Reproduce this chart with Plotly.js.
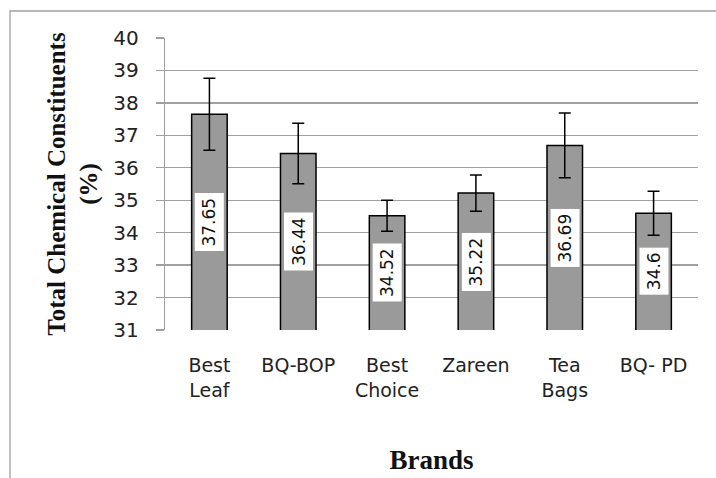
<!DOCTYPE html>
<html>
<head>
<meta charset="utf-8">
<script src="https://cdn.plot.ly/plotly-3.0.1.min.js"></script>
<style>
html,body{margin:0;padding:0;background:#fff;}
#chart{width:716px;height:478px;}
</style>
</head>
<body>
<div id="chart"></div>
<script>
var brands = ["Best<br>Leaf", "BQ-BOP", "Best<br>Choice", "Zareen", "Tea<br>Bags", "BQ- PD"];
var values = [37.65, 36.44, 34.52, 35.22, 36.69, 34.6];
var errors = [1.11, 0.93, 0.48, 0.56, 1.0, 0.68];
var labels = ["37.65", "36.44", "34.52", "35.22", "36.69", "34.6"];
var yMin = 31, yMax = 40;

var trace = {
  type: "bar",
  x: brands,
  y: values,
  marker: {color: "#9a9a9a", line: {color: "#000", width: 1.5}},
  error_y: {type: "data", array: errors, visible: true, color: "#000", thickness: 1.5, width: 6},
  hoverinfo: "none"
};

var annotations = values.map(function (v, i) {
  return {
    x: brands[i], y: (yMin + v) / 2, xref: "x", yref: "y",
    text: labels[i], showarrow: false, textangle: -90,
    bgcolor: "#ffffff", borderpad: 4,
    font: {family: "DejaVu Sans", size: 17, color: "#111"}
  };
});

var layout = {
  width: 716, height: 478,
  margin: {l: 165, r: 18, t: 38, b: 148},
  paper_bgcolor: "#fff", plot_bgcolor: "#fff",
  bargap: 0.6,
  showlegend: false,
  xaxis: {
    type: "category",
    showgrid: false, showline: false, ticks: "",
    tickfont: {family: "DejaVu Sans", size: 19, color: "#222"},
    ticklabelstandoff: 22,
    title: {text: "Brands", font: {family: "Liberation Serif", size: 27, color: "#111", weight: "bold"}, standoff: 50}
  },
  yaxis: {
    range: [yMin, yMax], dtick: 1,
    showgrid: true, gridcolor: "#a0a0a0", gridwidth: 1.3,
    showline: true, linecolor: "#a0a0a0", linewidth: 1.3,
    ticks: "outside", ticklen: 8, tickcolor: "#a0a0a0", tickwidth: 1.3,
    tickfont: {family: "DejaVu Sans", size: 20, color: "#222"},
    ticklabelstandoff: 13,
    zeroline: false,
    title: {text: "Total Chemical Constituents<br>(%)", font: {family: "Liberation Serif", size: 25, color: "#111", weight: "bold"}, standoff: 8}
  },
  annotations: annotations,
  shapes: [{
    type: "rect", xref: "paper", yref: "paper", layer: "below",
    x0: -155 / 533, x1: 1.2, y0: -1, y1: 1 + 27 / 292,
    line: {color: "#a0a0a0", width: 1.3}, fillcolor: "rgba(0,0,0,0)"
  }]
};

Plotly.newPlot("chart", [trace], layout, {displayModeBar: false, staticPlot: true});
</script>
</body>
</html>
